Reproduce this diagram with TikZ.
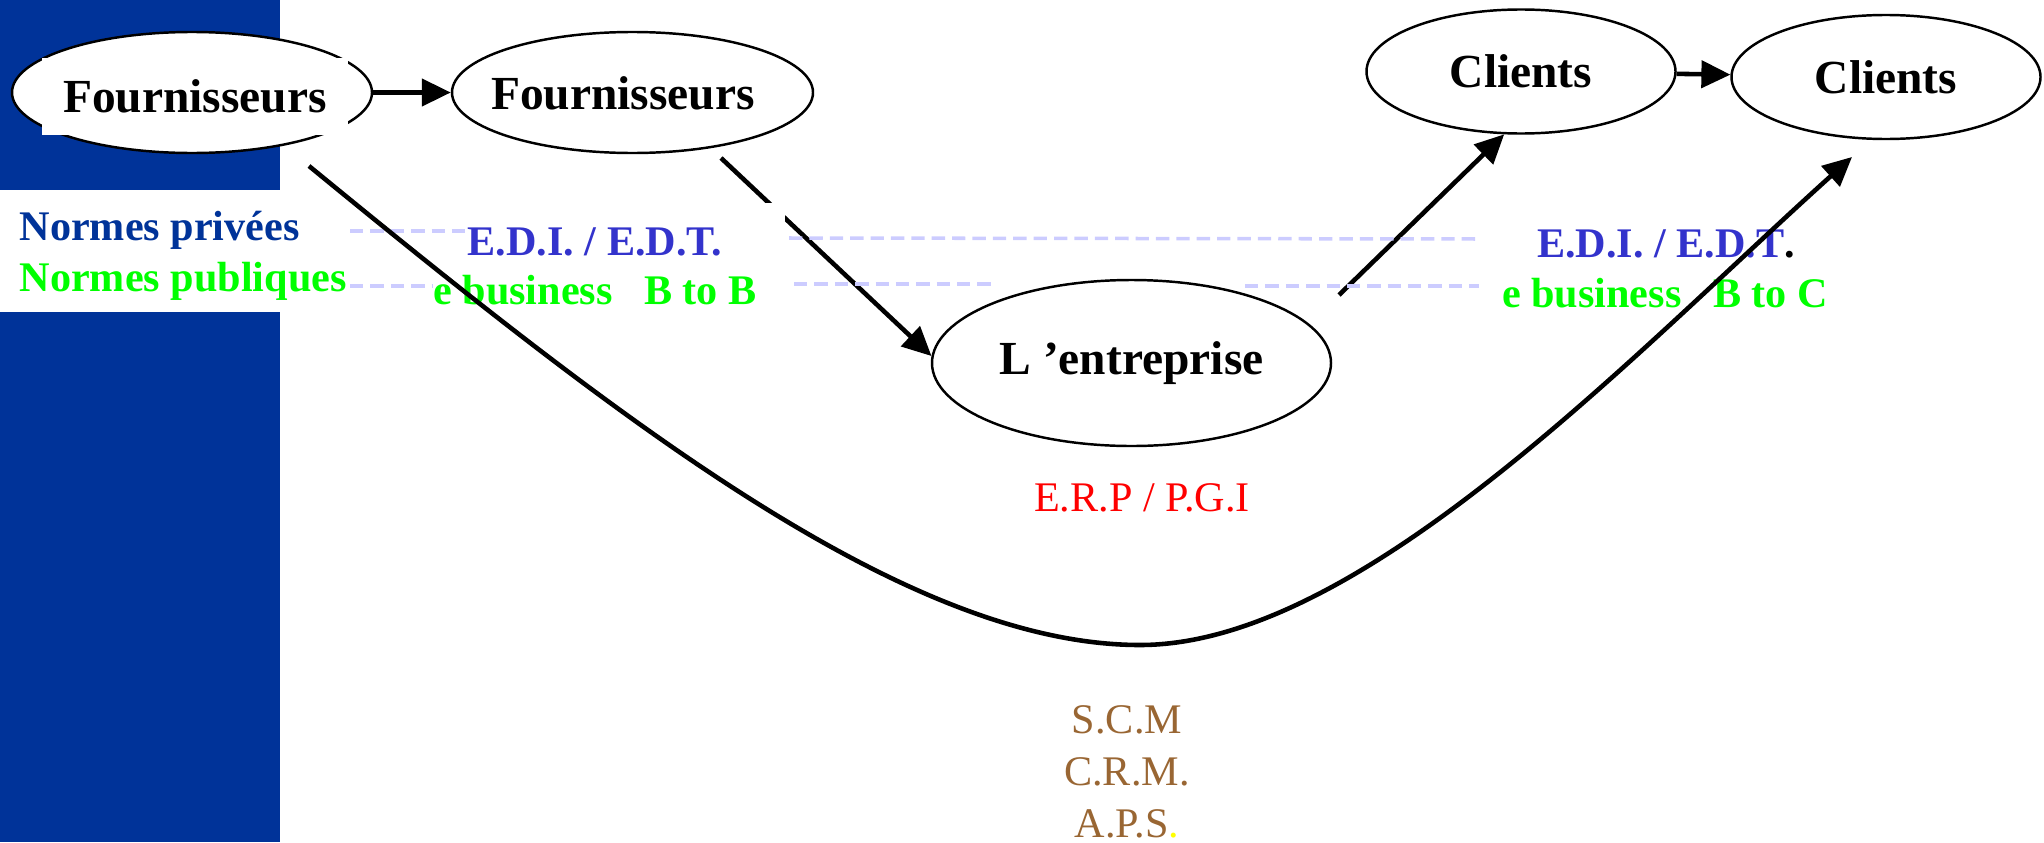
\documentclass[tikz,border=0pt]{standalone}
\usepackage{fontspec}
\setmainfont{Liberation Serif}
\usepackage{xcolor}
\usetikzlibrary{shapes.geometric,arrows.meta}
\definecolor{bleufond}{RGB}{0,51,153}
\definecolor{bleuedi}{RGB}{51,51,204}
\definecolor{vertpub}{RGB}{0,255,0}
\definecolor{brunoutil}{RGB}{153,102,51}
\definecolor{lavande}{RGB}{204,204,255}
\definecolor{jaunepoint}{RGB}{255,255,0}

\begin{document}
\begin{tikzpicture}[
  bulle/.style={draw, ellipse, line width=0.7pt, fill=white, inner sep=0pt},
  titre/.style={font=\fontsize{13.5}{16}\selectfont\bfseries, inner sep=0pt},
  norme/.style={font=\fontsize{12}{14}\selectfont\bfseries, inner sep=0pt},
  outil/.style={font=\fontsize{12}{14}\selectfont, inner sep=0pt},
  fleche/.style={line width=1.3pt, -{Triangle[length=0.29cm,width=0.27cm]}},
  pointille/.style={lavande, line width=1pt, dash pattern=on 3.8pt off 2pt}]
  \useasboundingbox (0,0) rectangle (20.44,8.42);
  % bandeau
  \fill[bleufond] (0,0) rectangle (2.80,8.42);
  \fill[white] (0,5.30) rectangle (2.80,6.52);
  % noeuds
  \node[bulle, minimum width=3.60cm, minimum height=1.21cm] (fourn1) at (1.92,7.495) {};
  \node[titre, fill=white, minimum width=3.06cm, minimum height=0.77cm] (fourn1txt) at (1.95,7.455) {Fournisseurs};
  \node[bulle, minimum width=3.61cm, minimum height=1.21cm] (fourn2) at (6.325,7.495) {};
  \node[titre] (fourn2txt) at (6.23,7.49) {Fournisseurs};
  \node[bulle, titre, minimum width=3.99cm, minimum height=1.66cm] (entr) at (11.315,4.79) {L ’entreprise};
  \node[bulle, titre, minimum width=3.09cm, minimum height=1.24cm] (client1) at (15.21,7.705) {Clients};
  \node[bulle, titre, minimum width=3.09cm, minimum height=1.24cm] (client2) at (18.86,7.65) {Clients};
  \coordinate (dfourn) at (7.21,6.84);
  \coordinate (dentr) at (13.39,5.47);
  \coordinate (dcourbe) at (3.09,6.76);
  \coordinate (fcourbe) at (18.52,6.85);
  % fleches
  \draw[fleche] (dfourn) -- (entr.178);
  \fill[white] (4.05,5.25) rectangle (7.85,6.39);
  \draw[fleche] (fourn1) -- (fourn2);
  \draw[fleche] (client1) -- (client2);
  \draw[fleche] (dentr) -- (client1.255);
  % normes
  \node[norme, text=bleufond, anchor=base west] (privees) at (0.19,6.02) {Normes privées};
  \node[norme, text=vertpub, anchor=base west] (publiques) at (0.19,5.51) {Normes publiques};
  \node[norme, text=bleuedi, anchor=base] (edib) at (5.95,5.87) {E.D.I. / E.D.T.};
  \node[norme, text=vertpub, anchor=base] (btob) at (5.95,5.38) {e business\hspace{9pt}B to B};
  \node[norme, anchor=base] (edic) at (16.66,5.85) {\textcolor{bleuedi}{E.D.I. / E.D.T}.};
  \node[norme, text=vertpub, anchor=base] (btoc) at (16.65,5.35) {e business\hspace{9pt}B to C};
  \draw[pointille] (3.50,6.11) -- (4.67,6.11);
  \draw[pointille] (7.89,6.04) -- (14.81,6.03);
  \draw[pointille] (3.50,5.56) -- (4.32,5.56);
  \draw[pointille] (7.94,5.58) -- (9.93,5.58);
  \draw[pointille] (12.45,5.56) -- (14.79,5.56);
  % outils
  \node[outil, text=red, anchor=base] (erp) at (11.42,3.31) {E.R.P / P.G.I};
  \node[outil, text=brunoutil, anchor=base] (scm) at (11.27,1.09) {S.C.M};
  \node[outil, text=brunoutil, anchor=base] (crm) at (11.27,0.57) {C.R.M.};
  \node[outil, text=brunoutil, anchor=base] (aps) at (11.27,0.05) {A.P.S\textcolor{jaunepoint}{.}};
  % grande courbe
  \draw[fleche] (dcourbe) .. controls (6.29,4.136) and (9.10,1.97) .. (11.40,1.97) .. controls (13.60,1.97) and (16.32,4.87) .. (fcourbe);
\end{tikzpicture}
\end{document}
